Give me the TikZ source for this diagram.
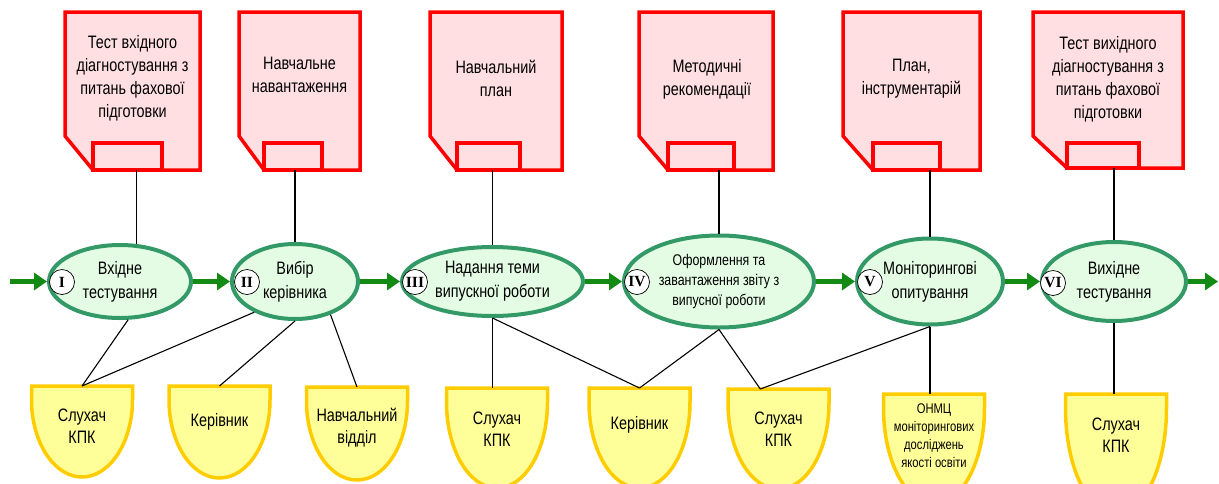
\documentclass[tikz,border=0pt]{standalone}
\usepackage{fontspec}
\setmainfont{Liberation Sans}[FakeStretch=0.8]
\newfontfamily\romfont{Liberation Serif}
\usepackage{tikz}
\usetikzlibrary{arrows.meta, shapes.geometric, calc}
\definecolor{docred}{HTML}{FF0000}
\definecolor{docpink}{HTML}{FFDFE2}
\definecolor{stagegreen}{HTML}{339966}
\definecolor{stagefill}{HTML}{E4FCE4}
\definecolor{flowgreen}{HTML}{138A13}
\definecolor{partgold}{HTML}{FFCC00}
\definecolor{partfill}{HTML}{FFFF99}

\begin{document}
\begin{tikzpicture}[x=1pt, y=-1pt,
    docbox/.style={minimum height=158, inner sep=0, outer sep=0},
    docline/.style={draw=docred, fill=docpink, line width=3.5pt},
    doctext/.style={align=center, font=\fontsize{18}{23}\selectfont},
    stage/.style={ellipse, draw=stagegreen, fill=stagefill, line width=4pt, inner sep=0, align=center, font=\fontsize{18}{24}\selectfont},
    numcirc/.style={circle, draw, fill=white, line width=0.7pt, minimum size=25, inner sep=0, font=\romfont\bfseries\fontsize{15.5}{15.5}\selectfont},
    flow/.style={flowgreen, line width=5pt, -{Triangle[length=13pt, width=17pt]}},
    link/.style={line width=1.1pt},
    partbox/.style={minimum width=101, inner sep=0, outer sep=0},
    partline/.style={draw=partgold, fill=partfill, line width=3.5pt},
    parttext/.style={align=center, font=\fontsize{18}{22}\selectfont}]
    \useasboundingbox (0,0) rectangle (1219,483);
    % Documents
    \node[docbox, minimum width=135] (d1) at (132.5,91) {};
    \draw[docline] (d1.north west) -- (d1.north east) -- (d1.south east) -- ($(d1.south west)+(28,0)$) -- ($(d1.south west)+(0,-34)$) -- cycle;
    \draw[docline] ($(d1.south west)+(28,0)$) rectangle ++(69,-27);
    \node[doctext] (d1t) at (132.5,78) {Тест вхідного\\діагностування з\\питань фахової\\підготовки};
    \node[docbox, minimum width=121] (d2) at (299.5,91) {};
    \draw[docline] (d2.north west) -- (d2.north east) -- (d2.south east) -- ($(d2.south west)+(25,0)$) -- ($(d2.south west)+(0,-34)$) -- cycle;
    \draw[docline] ($(d2.south west)+(25,0)$) rectangle ++(58,-27);
    \node[doctext] (d2t) at (299.5,74.5) {Навчальне\\навантаження};
    \node[docbox, minimum width=132] (d3) at (496,91) {};
    \draw[docline] (d3.north west) -- (d3.north east) -- (d3.south east) -- ($(d3.south west)+(27,0)$) -- ($(d3.south west)+(0,-34)$) -- cycle;
    \draw[docline] ($(d3.south west)+(27,0)$) rectangle ++(63,-27);
    \node[doctext] (d3t) at (496,78.5) {Навчальний\\план};
    \node[docbox, minimum width=134] (d4) at (706,91) {};
    \draw[docline] (d4.north west) -- (d4.north east) -- (d4.south east) -- ($(d4.south west)+(29,0)$) -- ($(d4.south west)+(0,-34)$) -- cycle;
    \draw[docline] ($(d4.south west)+(29,0)$) rectangle ++(66,-27);
    \node[doctext] (d4t) at (707,79) {Методичні\\рекомендації};
    \node[docbox, minimum width=137] (d5) at (911.5,91) {};
    \draw[docline] (d5.north west) -- (d5.north east) -- (d5.south east) -- ($(d5.south west)+(30,0)$) -- ($(d5.south west)+(0,-34)$) -- cycle;
    \draw[docline] ($(d5.south west)+(30,0)$) rectangle ++(67,-27);
    \node[doctext] (d5t) at (911.5,78.5) {План,\\інструментарій};
    \node[docbox, minimum width=150, minimum height=156] (d6) at (1108,90) {};
    \draw[docline] (d6.north west) -- (d6.north east) -- (d6.south east) -- ($(d6.south west)+(34,0)$) -- ($(d6.south west)+(0,-32)$) -- cycle;
    \draw[docline] ($(d6.south west)+(34,0)$) rectangle ++(72,-25);
    \node[doctext] (d6t) at (1108,79) {Тест вихідного\\діагностування з\\питань фахової\\підготовки};
    % Stages
    \node[stage, minimum width=142, minimum height=73] (e1) at (120,281.5) {Вхідне\\тестування};
    \node[stage, minimum width=126, minimum height=75] (e2) at (295,281.5) {Вибір\\керівника};
    \node[stage, minimum width=181, minimum height=69] (e3) at (492.5,281.5) {Надання теми\\випускної роботи};
    \node[stage, minimum width=190, minimum height=92, font=\fontsize{15.5}{20}\selectfont] (e4) at (719,281.5) {Оформлення та\\завантаження звіту з\\випусної роботи};
    \node[stage, minimum width=146, minimum height=86] (e5) at (930,281.5) {Моніторингові\\опитування};
    \node[stage, minimum width=144, minimum height=79] (e6) at (1114,281.5) {Вихідне\\тестування};
    \node[numcirc] (r1) at (62,282) {I};
    \node[numcirc] (r2) at (247,282) {II};
    \node[numcirc] (r3) at (415,282) {III};
    \node[numcirc] (r4) at (637,282) {IV};
    \node[numcirc] (r5) at (870,282) {V};
    \node[numcirc] (r6) at (1053,283) {VI};
    % Flow
    \coordinate (start) at (10,281.5);
    \coordinate (finish) at (1218,281.5);
    \draw[flow] (start) -- (e1);
    \draw[flow] (e1) -- (e2);
    \draw[flow] (e2) -- (e3);
    \draw[flow] (e3) -- (e4);
    \draw[flow] (e4) -- (e5);
    \draw[flow] (e5) -- (e6);
    \draw[flow] (e6) -- (finish);
    % Participants
    \node[partbox, minimum height=91] (s1) at (82,431.5) {};
    \draw[partline] (s1.north west) -- (s1.north east) -- ++(0,14) .. controls +(0,42) and +(28,0) .. (s1.south) .. controls +(-28,0) and +(0,42) .. ($(s1.north west)+(0,14)$) -- cycle;
    \node[parttext] (s1t) at (82,426) {Слухач\\КПК};
    \node[partbox, minimum height=92] (s2) at (219.5,432) {};
    \draw[partline] (s2.north west) -- (s2.north east) -- ++(0,14) .. controls +(0,43) and +(28,0) .. (s2.south) .. controls +(-28,0) and +(0,43) .. ($(s2.north west)+(0,14)$) -- cycle;
    \node[parttext] (s2t) at (219.5,422) {Керівник};
    \node[partbox, minimum height=93] (s3) at (357,433.5) {};
    \draw[partline] (s3.north west) -- (s3.north east) -- ++(0,14) .. controls +(0,44) and +(28,0) .. (s3.south) .. controls +(-28,0) and +(0,44) .. ($(s3.north west)+(0,14)$) -- cycle;
    \node[parttext] (s3t) at (357,428) {Навчальний\\відділ};
    \node[partbox, minimum height=100] (s4) at (497,438) {};
    \draw[partline] (s4.north west) -- (s4.north east) -- ++(0,14) .. controls +(0,48) and +(28,0) .. (s4.south) .. controls +(-28,0) and +(0,48) .. ($(s4.north west)+(0,14)$) -- cycle;
    \node[parttext] (s4t) at (497,429) {Слухач\\КПК};
    \node[partbox, minimum height=100] (s5) at (639.5,438) {};
    \draw[partline] (s5.north west) -- (s5.north east) -- ++(0,14) .. controls +(0,48) and +(28,0) .. (s5.south) .. controls +(-28,0) and +(0,48) .. ($(s5.north west)+(0,14)$) -- cycle;
    \node[parttext] (s5t) at (639.5,425) {Керівник};
    \node[partbox, minimum height=100] (s6) at (778.5,439) {};
    \draw[partline] (s6.north west) -- (s6.north east) -- ++(0,14) .. controls +(0,48) and +(28,0) .. (s6.south) .. controls +(-28,0) and +(0,48) .. ($(s6.north west)+(0,14)$) -- cycle;
    \node[parttext] (s6t) at (778.5,429) {Слухач\\КПК};
    \node[partbox, minimum height=110] (s7) at (934,449) {};
    \draw[partline] (s7.north west) -- (s7.north east) -- ++(0,14) .. controls +(0,53) and +(28,0) .. (s7.south) .. controls +(-28,0) and +(0,53) .. ($(s7.north west)+(0,14)$) -- cycle;
    \node[parttext, font=\fontsize{14}{18}\selectfont] (s7t) at (934,436) {ОНМЦ\\моніторингових\\досліджень\\якості освіти};
    \node[partbox, minimum height=120] (s8) at (1116,454) {};
    \draw[partline] (s8.north west) -- (s8.north east) -- ++(0,14) .. controls +(0,59) and +(28,0) .. (s8.south) .. controls +(-28,0) and +(0,59) .. ($(s8.north west)+(0,14)$) -- cycle;
    \node[parttext] (s8t) at (1116,435) {Слухач\\КПК};
    % Links
    \draw[link] (d1.south -| e1.66) -- (e1.66);
    \draw[link] (d2.south -| e2.north) -- (e2.north);
    \draw[link] (d3.south -| e3.north) -- (e3.north);
    \draw[link] (d4.south -| e4.north) -- (e4.north);
    \draw[link] (d5.south -| e5.north) -- (e5.north);
    \draw[link] (d6.south -| e6.north) -- (e6.north);
    \draw[link] (e1.-78) -- (s1.north);
    \draw[link] (e2.-143) -- (s1.north);
    \draw[link] (e2.south) -- (s2.north);
    \draw[link] (e2.-43) -- (s3.north);
    \draw[link] (e3.south) -- (e3.south |- s4.north);
    \draw[link] (e3.south) -- (s5.north);
    \draw[link] (e4.south) -- (s5.north);
    \draw[link] (e4.south) -- (s6.110);
    \draw[link] (e5.south) -- (s6.110);
    \draw[link] (e5.south) -- (e5.south |- s7.north);
    \draw[link] (e6.south) -- (e6.south |- s8.north);
\end{tikzpicture}
\end{document}
